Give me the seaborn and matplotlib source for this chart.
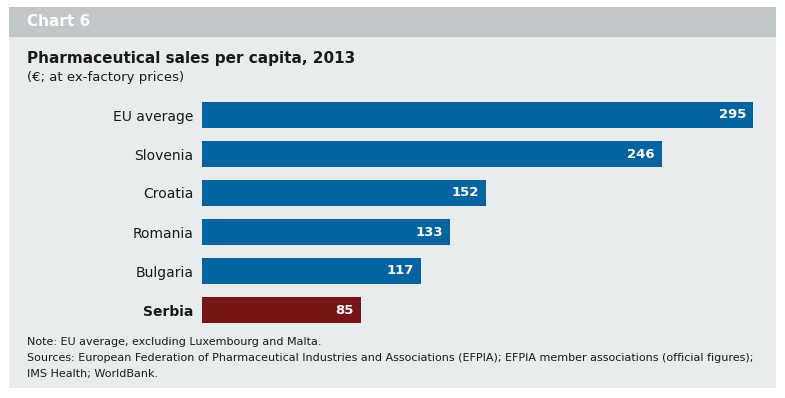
import seaborn as sns
import pandas as pd
from matplotlib import pyplot as plt
from matplotlib.patches import Rectangle

# %% data
countries = ["EU average", "Slovenia", "Croatia", "Romania", "Bulgaria", "Serbia"]
sales = [295, 246, 152, 133, 117, 85]
highlight = "Serbia"

title = "Pharmaceutical sales per capita, 2013"
subtitle = "(€; at ex-factory prices)"
notes = [
    "Note: EU average, excluding Luxembourg and Malta.",
    "Sources: European Federation of Pharmaceutical Industries and Associations (EFPIA); EFPIA member associations (official figures);",
    "IMS Health; WorldBank.",
]

blue = "#0364a1"
red = "#761416"
panel = "#e8eced"
header = "#c1c7c9"
ink = "#1a1a1a"

df = pd.DataFrame({"country": countries, "sales": sales})
palette = {c: (red if c == highlight else blue) for c in countries}

sns.set_style("white")
plt.rcParams["font.family"] = ["DejaVu Sans"]

W, H = 785, 398
fig = plt.figure(figsize=(W / 100, H / 100), dpi=100)

# %% background boxes (pixel coords -> figure coords)
def px(x, y):
    return x / W, 1 - y / H

fig.patches.append(Rectangle(px(9, 388), 767 / W, 351 / H, transform=fig.transFigure,
                             facecolor=panel, edgecolor="none", zorder=-2))
fig.patches.append(Rectangle(px(9, 37), 767 / W, 30 / H, transform=fig.transFigure,
                             facecolor=header, edgecolor="none", zorder=-2))

fig.text(*px(27, 22), "Chart 6", color="white", fontsize=11, fontweight="bold", va="center")
fig.text(*px(27, 58), title, color=ink, fontsize=11, fontweight="bold", va="center")
fig.text(*px(27, 77), subtitle, color=ink, fontsize=9.5, va="center")
for i, line in enumerate(notes):
    fig.text(*px(27, 342 + 16 * i), line, color=ink, fontsize=8, va="center")

# %% bars
ax_left, ax_top, ax_bottom = 202, 95.5, 329.5
ax = fig.add_axes([ax_left / W, 1 - ax_bottom / H, 300 * 1.868 / W, (ax_bottom - ax_top) / H])
ax.set_facecolor("none")
sns.barplot(data=df, x="sales", y="country", hue="country", palette=palette,
            orient="h", width=0.68, saturation=1, legend=False, linewidth=0, ax=ax)
ax.set_xlim(0, 300)
ax.set_xlabel("")
ax.set_ylabel("")
ax.set_xticks([])
sns.despine(ax=ax, left=True, bottom=True)
ax.tick_params(axis="y", length=0, pad=6, labelsize=10, labelcolor=ink)
for lbl in ax.get_yticklabels():
    if lbl.get_text() == highlight:
        lbl.set_fontweight("bold")

for cont in ax.containers:
    texts = ax.bar_label(cont, fmt="%d", padding=-5, color="white", fontweight="bold",
                         fontsize=9.5, label_type="edge")
    for t in texts:
        t.set_ha("right")

plt.savefig("out.png", dpi=100)
